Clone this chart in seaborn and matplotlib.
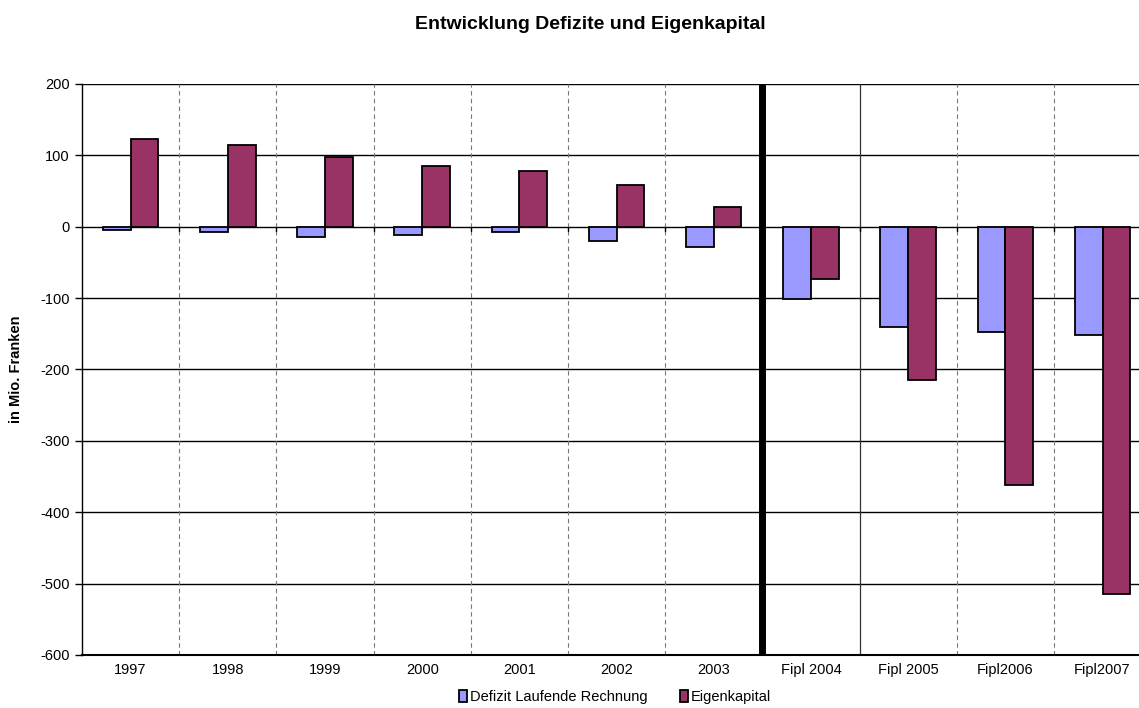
import matplotlib
matplotlib.use("Agg")
import matplotlib.pyplot as plt
import seaborn as sns
import pandas as pd

categories = ["1997", "1998", "1999", "2000", "2001", "2002", "2003",
              "Fipl 2004", "Fipl 2005", "Fipl2006", "Fipl2007"]
defizit = [-5, -8, -15, -12, -7, -20, -29, -101, -141, -147, -152]
eigenkapital = [123, 114, 98, 85, 78, 58, 28, -73, -215, -362, -515]
series_names = ["Defizit Laufende Rechnung", "Eigenkapital"]
y_ticks = [200, 100, 0, -100, -200, -300, -400, -500, -600]

df = pd.DataFrame({
    "Jahr": categories * 2,
    "Serie": [series_names[0]] * len(categories) + [series_names[1]] * len(categories),
    "Wert": defizit + eigenkapital,
})

sns.set_style("white")
plt.rcParams["font.family"] = ["Liberation Sans", "DejaVu Sans"]
plt.rcParams["text.color"] = "black"
plt.rcParams["axes.labelcolor"] = "black"
plt.rcParams["xtick.color"] = "black"
plt.rcParams["ytick.color"] = "black"

fig = plt.figure(figsize=(11.39, 7.08), dpi=100)
ax = fig.add_axes([0.072, 0.0749, 0.928, 0.8065])

palette = {series_names[0]: "#9999FF", series_names[1]: "#993366"}
sns.barplot(data=df, x="Jahr", y="Wert", hue="Serie", order=categories,
            hue_order=series_names, palette=palette, width=0.57,
            edgecolor="black", linewidth=1.3, saturation=1, ax=ax, zorder=3)

ax.set_ylim(-600, 200)
ax.set_xlim(-0.5, 10.375)
ax.set_yticks(y_ticks)
ax.set_yticklabels([str(v) for v in y_ticks], fontsize=10.5)
ax.tick_params(axis="y", length=5, width=1, color="black", direction="out", left=True, pad=4)
ax.tick_params(axis="x", length=0, labelsize=10.5, pad=6)
ax.set_xlabel("")
ax.set_ylabel("in Mio. Franken", fontsize=10.5, fontweight="bold", labelpad=12)

# horizontal grid
for v in y_ticks:
    ax.axhline(v, color="black", linewidth=1.0, zorder=1)

# category separators
n = len(categories)
for i in range(n - 1):
    pos = i + 0.5
    if i == 6:
        ax.axvline(pos, color="black", linewidth=5, zorder=4)
    elif i == 7:
        ax.axvline(pos, color="#333333", linewidth=0.9, zorder=1)
    else:
        ax.axvline(pos, color="#777777", linewidth=0.8, linestyle=(0, (4, 3)), zorder=1)
    ax.plot([pos, pos], [0, -6], color="black", linewidth=1, zorder=2)

for side in ["top", "right"]:
    ax.spines[side].set_visible(False)
ax.spines["left"].set_color("black")
ax.spines["left"].set_linewidth(1)
ax.spines["bottom"].set_color("black")
ax.spines["bottom"].set_linewidth(1.5)

fig.suptitle("Entwicklung Defizite und Eigenkapital", x=0.518, y=0.977,
             fontsize=14, fontweight="bold", color="black")

handles, labels = ax.get_legend_handles_labels()
ax.legend_.remove()
fig.legend(handles, labels, loc="center", bbox_to_anchor=(0.54, 0.015), ncol=2,
           frameon=False, fontsize=10.5, handlelength=0.55, handleheight=0.9,
           handletextpad=0.2, columnspacing=2.2)

fig.savefig("out.png", dpi=100)
